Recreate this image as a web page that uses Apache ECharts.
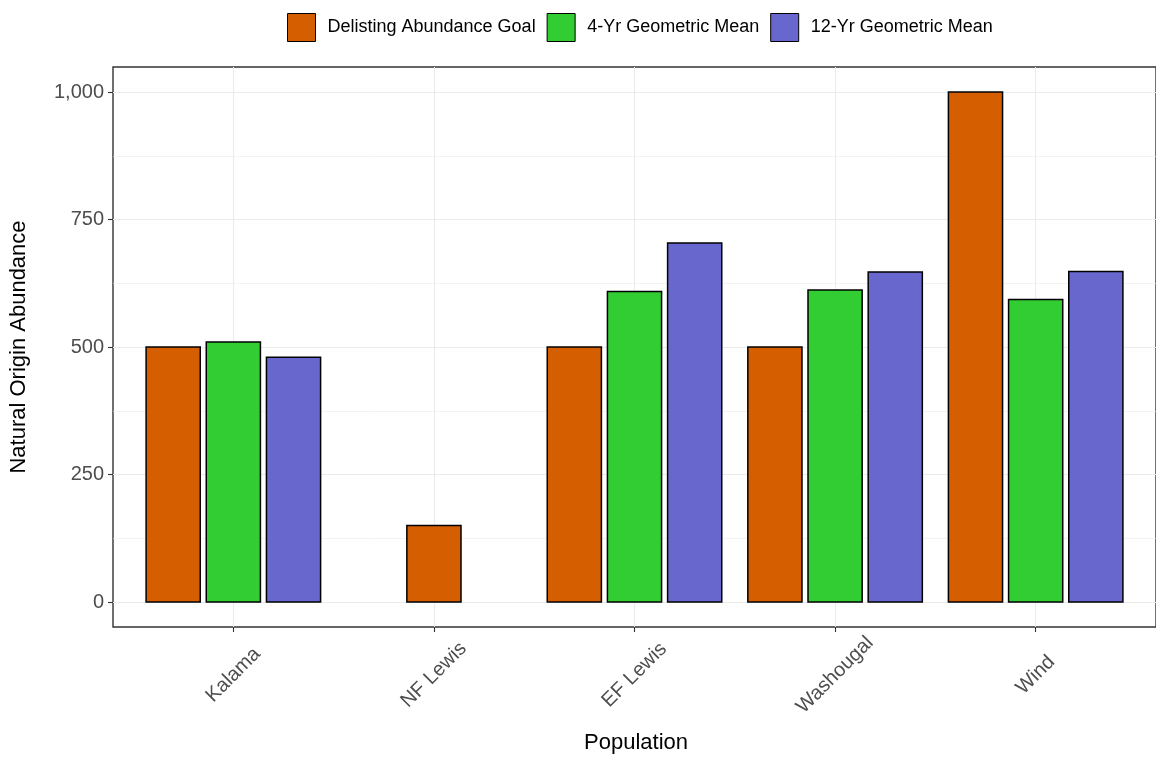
<!DOCTYPE html>
<html><head><meta charset="utf-8">
<script src="https://cdn.jsdelivr.net/npm/echarts@6/dist/echarts.min.js"></script>
<style>html,body{margin:0;padding:0;background:#fff}#c{width:1156px;height:757px}</style>
</head><body><div id="c"></div>
<script>
const categories = ['Kalama','NF Lewis','EF Lewis','Washougal','Wind'];
const seriesNames = ['Delisting Abundance Goal','4-Yr Geometric Mean','12-Yr Geometric Mean'];
const delistingGoal = [500,150,500,500,1000];
const mean4yr = [510,null,609,612,593];
const mean12yr = [480,null,704,647,648];
const yTicks = [0,250,500,750,1000];
const colors = ['#D55E00','#32CD32','#6767CD'];
const allValues = [delistingGoal, mean4yr, mean12yr];

const FONT = '"Liberation Sans", Arial, sans-serif';
const BAR_W = 0.27, DODGE = 0.3;
function makeRender(si){
  return function(params, api){
    const ci = params.dataIndex;
    const v = api.value(1);
    if (v == null || isNaN(v)) return null;
    const present = allValues.map((a,k)=>a[ci]!=null?k:-1).filter(k=>k>=0);
    const pos = present.indexOf(si);
    const off = (pos - (present.length-1)/2)*DODGE;
    const x = api.value(0) + off;
    const p0 = api.coord([x - BAR_W/2, 0]);
    const p1 = api.coord([x + BAR_W/2, v]);
    return {type:'rect', shape:{x:p0[0], y:p1[1], width:p1[0]-p0[0], height:p0[1]-p1[1]},
      style:{fill:colors[si], stroke:'#000', lineWidth:1.5}};
  };
}
const chart = echarts.init(document.getElementById('c'));
const catPos = categories.map((c,i)=>i+1);
chart.setOption({
  animation:false,
  textStyle:{fontFamily:FONT},
  legend:{
    top:8, left:282, icon:'rect', itemWidth:28, itemHeight:28, itemGap:11,
    textStyle:{fontSize:18, color:'#000', fontFamily:FONT, padding:[0,0,0,7]},
    itemStyle:{borderColor:'#000', borderWidth:1},
    data:seriesNames
  },
  grid:[
    {left:113, width:1043, top:92, height:510, show:false},
    {left:113, width:1043, top:67, height:560, show:true, borderColor:'#333', borderWidth:1.4, backgroundColor:'transparent'}
  ],
  xAxis:[
    {type:'value', gridIndex:0, min:0.4, max:5.6, show:false},
    {type:'value', gridIndex:1, min:0.4, max:5.6, position:'bottom',
     axisLine:{show:false},
     axisTick:{show:true, length:5, lineStyle:{color:'#333', width:1.1}, customValues:catPos},
     axisLabel:{rotate:45, fontSize:20, color:'#4d4d4d', margin:48, fontFamily:FONT, customValues:catPos,
       align:'center', verticalAlign:'middle',
       formatter:v=>{const i=Math.round(v)-1; return Math.abs(v-Math.round(v))<1e-6 && categories[i] ? categories[i] : '';}},
     splitLine:{show:true, lineStyle:{color:'#EBEBEB', width:1.1}}
    }
  ],
  yAxis:[
    {type:'value', gridIndex:0, min:0, max:1000, interval:250,
     axisLine:{show:false},
     axisTick:{show:true, length:5, lineStyle:{color:'#333', width:1.1}},
     axisLabel:{fontSize:20, color:'#4d4d4d', margin:9, fontFamily:FONT,
       formatter:v=>v.toLocaleString('en-US')},
     splitLine:{show:true, lineStyle:{color:'#EBEBEB', width:1.1}},
     minorTick:{show:false, splitNumber:2},
     minorSplitLine:{show:true, lineStyle:{color:'#EBEBEB', width:0.6}}
    },
    {type:'value', gridIndex:1, min:0, max:1, show:false}
  ],
  graphic:[
    {type:'text', x:19, y:347, rotation:Math.PI/2, style:{text:'Natural Origin Abundance', fill:'#000', font:'22px '+FONT, textAlign:'center', textVerticalAlign:'middle'}},
    {type:'text', x:636, y:743, style:{text:'Population', fill:'#000', font:'22px '+FONT, textAlign:'center', textVerticalAlign:'middle'}}
  ],
  series: allValues.map((arr,si)=>({
    name:seriesNames[si], type:'custom', xAxisIndex:0, yAxisIndex:0,
    itemStyle:{color:colors[si], borderColor:'#000', borderWidth:1},
    renderItem:makeRender(si),
    encode:{x:0, y:1},
    data:arr.map((v,i)=>[i+1, v==null?'-':v])
  }))
});
</script></body></html>
